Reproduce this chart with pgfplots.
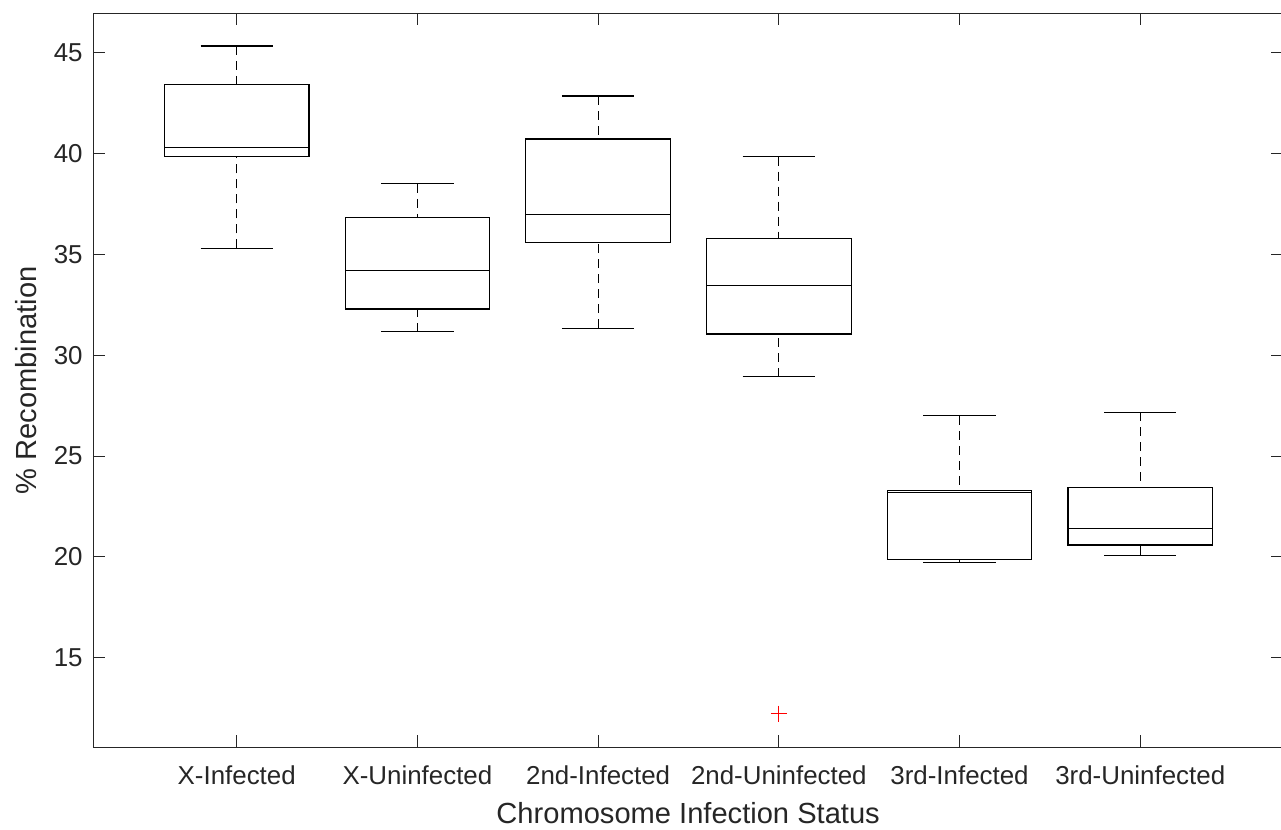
\documentclass[border=0pt]{standalone}
\usepackage{pgfplots}
\pgfplotsset{compat=1.18}
\usepgfplotslibrary{statistics}
\usetikzlibrary{calc}
\usepackage{fontspec}
\setmainfont{Liberation Sans}
\definecolor{axgray}{HTML}{262626}
\begin{document}
\begin{tikzpicture}
\begin{axis}[
  scale only axis,
  width=594.85pt, height=367pt,
  xmin=0.2064, xmax=6.790,
  ymin=10.56, ymax=46.95,
  xtick={1,2,3,4,5,6},
  xticklabels={X-Infected,X-Uninfected,2nd-Infected,2nd-Uninfected,3rd-Infected,3rd-Uninfected},
  ytick={15,20,25,30,35,40,45},
  tick align=inside,
  major tick length=6pt,
  xtick pos=both, ytick pos=both,
  axis line style={axgray, line width=0.5pt},
  tick style={axgray, line width=0.5pt},
  tick label style={font=\fontsize{12.95}{15}\selectfont, text=axgray},
  /pgf/number format/assume math mode=true,
  yticklabel style={xshift=-1.8pt},
  xticklabel style={yshift=-5.5pt},
  xlabel={Chromosome Infection Status},
  ylabel={\% Recombination},
  label style={font=\fontsize{14.55}{17}\selectfont, text=axgray},
  xlabel style={at={(axis description cs:0.5,0)}, anchor=north, yshift=-24.1pt},
  ylabel style={at={(axis description cs:-0.0476,0.5)}, anchor=base},
  boxplot/draw direction=y,
  boxplot/box extend=0.8,
  boxplot/whisker extend=0.4,
  boxplot/draw/lower whisker/.code={
    \draw[black, line width=0.55pt, dash pattern=on 4.5pt off 3pt]
      (boxplot cs:\pgfplotsboxplotvalue{lower whisker}) -- (boxplot cs:\pgfplotsboxplotvalue{lower quartile});
    \draw[black, line width=0.55pt]
      (boxplot whisker cs:\pgfplotsboxplotvalue{lower whisker},0) -- (boxplot whisker cs:\pgfplotsboxplotvalue{lower whisker},1);
  },
  boxplot/draw/upper whisker/.code={
    \draw[black, line width=0.55pt, dash pattern=on 4.5pt off 3pt]
      (boxplot cs:\pgfplotsboxplotvalue{upper whisker}) -- (boxplot cs:\pgfplotsboxplotvalue{upper quartile});
    \draw[black, line width=0.55pt]
      (boxplot whisker cs:\pgfplotsboxplotvalue{upper whisker},0) -- (boxplot whisker cs:\pgfplotsboxplotvalue{upper whisker},1);
  },
]
\coordinate (sw) at (rel axis cs:0,0);
\coordinate (ne) at (rel axis cs:1,1);
\addplot[black, line width=0.55pt, mark=none, boxplot prepared={draw position=1,
  lower whisker=35.30, lower quartile=39.83, median=40.31, upper quartile=43.40, upper whisker=45.33}] coordinates {};
\addplot[black, line width=0.55pt, mark=none, boxplot prepared={draw position=2,
  lower whisker=31.17, lower quartile=32.29, median=34.19, upper quartile=36.82, upper whisker=38.49}] coordinates {};
\addplot[black, line width=0.55pt, mark=none, boxplot prepared={draw position=3,
  lower whisker=31.34, lower quartile=35.58, median=36.99, upper quartile=40.72, upper whisker=42.85}] coordinates {};
\addplot[black, line width=0.55pt, mark=+, mark size=4pt, mark options={red, line width=0.5pt, solid}, boxplot prepared={draw position=4,
  lower whisker=28.94, lower quartile=31.05, median=33.47, upper quartile=35.80, upper whisker=39.84}] coordinates {(0,12.23)};
\addplot[black, line width=0.55pt, mark=none, boxplot prepared={draw position=5,
  lower whisker=19.72, lower quartile=19.85, median=23.19, upper quartile=23.28, upper whisker=26.99}] coordinates {};
\addplot[black, line width=0.55pt, mark=none, boxplot prepared={draw position=6,
  lower whisker=20.08, lower quartile=20.59, median=21.39, upper quartile=23.45, upper whisker=27.17}] coordinates {};
\end{axis}
\pgfresetboundingbox
\path ($(sw)+(-46.65pt,-40.85pt)$) rectangle ($(ne)+(-1pt,6.65pt)$);
\end{tikzpicture}
\end{document}
